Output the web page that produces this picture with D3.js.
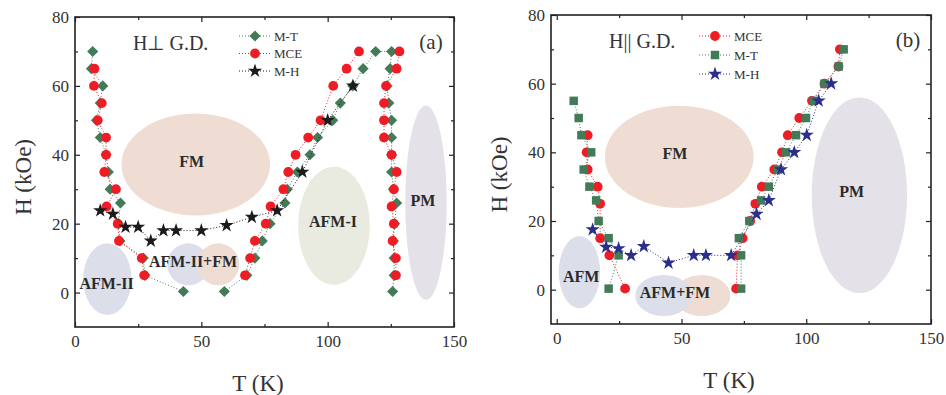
<!DOCTYPE html>
<html>
<head>
<meta charset="utf-8">
<script src="https://cdn.jsdelivr.net/npm/d3@7"></script>
<style>
  body { margin: 0; background: #fff; }
  svg text { font-family: "Liberation Serif", "Times New Roman", serif; }
</style>
</head>
<body>
<div id="chart"></div>
<script>
const width = 946;
const height = 395;

const tTicks = [0, 50, 100, 150];
const tMinor = [25, 75, 125];
const hTicks = [0, 20, 40, 60, 80];
const hMinor = [10, 30, 50, 70];

// panel (a) H perp G.D.   [T (K), H (kOe)], null = gap in the dotted line
const aMT = [
    [7, 70], [6.5, 65], [11, 60], [10, 55], [8.5, 50], [10, 45], [12.3, 40], [13.2, 35], [13.9, 30],
    [18, 26], [17.2, 20], [17.8, 15], [27, 10], [27.7, 5], [42.9, 0.3],
    null,
    [59.1, 0.3], [68, 5], [71.2, 10], [74.1, 15], [77.2, 20], [83.1, 26], [84, 30], [88, 35], [93, 40],
    [96, 45], [102, 50], [105, 55], [110, 60], [114, 65], [119, 70], [125.3, 70],
    [124.7, 65], [123.5, 60], [124.2, 55], [125.3, 50], [125.3, 45], [125.3, 40], [125.3, 35], [126, 30],
    [127.3, 26], [126.5, 20], [126, 15], [126.3, 10], [126.3, 5], [125.7, 0.3]
];
const aMCE = [
    [7.7, 65], [7.5, 60], [10.6, 55], [9, 50], [12.3, 45], [12.3, 40], [11.6, 35], [16.2, 30],
    [12.5, 25], [16.9, 20], [17.4, 15], [26.4, 10], [27.4, 5],
    null,
    [67.3, 5], [69.3, 10], [71.2, 15], [75.5, 20], [77.4, 25], [82.5, 30], [84.4, 35], [87.3, 40],
    [92.3, 45], [97.2, 50], [102.2, 60], [107.5, 65], [112.4, 70],
    null,
    [128.4, 70], [127.3, 65], [123.1, 60], [122.3, 55], [122.3, 50], [122.3, 45], [125.3, 40],
    [127.3, 35], [126.2, 30], [125.3, 25], [126.2, 20], [125.7, 15], [127, 10], [127, 5]
];
const aMH = [
    [10, 23.8], [15, 22.8], [20, 19], [25, 19], [30, 15], [35, 18], [40, 18], [50, 18],
    [60, 19.5], [70, 21.9], [80, 23.8], [90, 35], [100, 50], [110, 60]
];
// phase regions: centre and half-widths in T / H units
const aRegions = [
    { phase: "FM", t: 47.8, h: 37.2, rt: 29.4, rh: 14.8 },
    { phase: "AFM", t: 12.8, h: 3.9, rt: 9.6, rh: 10.4 },
    { phase: "AFM", t: 44.8, h: 8.2, rt: 8.3, rh: 6.1 },
    { phase: "FM", t: 56.7, h: 8.2, rt: 8.3, rh: 6.1 },
    { phase: "AFMI", t: 102.5, h: 19.4, rt: 14.2, rh: 17.1 },
    { phase: "PM", t: 138.9, h: 26.1, rt: 8.2, rh: 28.2 }
];
const aLabels = [
    { text: "FM", t: 46.2, h: 38 },
    { text: "AFM-II", t: 12.5, h: 2.5 },
    { text: "AFM-II+FM", t: 46.7, h: 9 },
    { text: "AFM-I", t: 102.1, h: 20.5 },
    { text: "PM", t: 137.7, h: 26.6 }
];

// panel (b) H || G.D.
const bMCE = [
    [12.4, 45], [12, 40], [12.4, 35], [16.4, 30], [17.4, 25], [17.4, 15], [21.1, 10], [27.4, 0.3],
    null,
    [71.9, 0.3], [72.5, 10], [74.5, 15], [77.5, 20], [79.6, 25], [82.2, 30], [87.2, 35], [90.3, 40],
    [92.6, 45], [97.2, 50], [102.3, 55], [107.3, 60], [112.9, 65], [113.5, 70]
];
const bMT = [
    [6.8, 55], [8.8, 50], [9.9, 45], [13.8, 40], [10.8, 35], [13.1, 30], [15.8, 26], [16.8, 20],
    [20.8, 15], [24.8, 10], [20.8, 0.3],
    null,
    [73.9, 0.3], [73.9, 10], [73, 15], [77.2, 20], [81.9, 26], [85, 30], [88.6, 35], [91.9, 40],
    [95.9, 45], [99.9, 50], [102.9, 55], [107.3, 60], [113, 65], [115, 70]
];
const bMH = [
    [14.4, 17.5], [19.8, 12.4], [24.8, 12], [29.8, 10], [34.9, 12.6], [44.8, 7.8], [54.9, 10],
    [59.8, 10], [69.9, 10], [80.1, 22], [85, 26], [89.9, 35], [95.2, 40], [100.2, 45], [105, 55], [110, 60]
];
const bRegions = [
    { phase: "FM", t: 49.1, h: 38.7, rt: 29.8, rh: 14.9 },
    { phase: "AFM", t: 9.1, h: 5.1, rt: 8.3, rh: 10.5 },
    { phase: "FM", t: 58.2, h: -1.7, rt: 11.4, rh: 6.0 },
    { phase: "AFM", t: 42.9, h: -1.7, rt: 11.4, rh: 6.0 },
    { phase: "PM", t: 121.3, h: 27.5, rt: 19.1, rh: 28.5 }
];
const bLabels = [
    { text: "FM", t: 47.4, h: 39.6 },
    { text: "AFM", t: 9.8, h: 3.9 },
    { text: "AFM+FM", t: 47.4, h: -0.7 },
    { text: "PM", t: 118.2, h: 28.5 }
];

const regionFill = { FM: "#efddd4", AFM: "#dcdfea", AFMI: "#e9ebe0", PM: "#e5e1e9" };
const seriesColor = { "M-T": "#437b59", "MCE": "#ee1c24", "M-H": "#1b1b1b" };
const symbolOf = { "M-T": "diamond", "MCE": "circle", "M-H": "star" };

const svg = d3.select("#chart")
    .append("svg")
    .attr("width", width)
    .attr("height", height);

function marker(sel, kind, color) {
    if (kind === "circle") {
        sel.append("circle").attr("r", 4.9).attr("fill", color);
    } else if (kind === "diamond") {
        sel.append("path").attr("d", d3.symbol(d3.symbolSquare, 62)()).attr("transform", "rotate(45)").attr("fill", color);
    } else if (kind === "square") {
        sel.append("path").attr("d", d3.symbol(d3.symbolSquare, 72)()).attr("fill", color);
    } else {
        sel.append("path").attr("d", d3.symbol(d3.symbolStar, 62)()).attr("fill", color);
    }
}

function drawPanel(p) {
    const x = d3.scaleLinear().domain(p.tDomain).range([p.left, p.right]);
    const y = d3.scaleLinear().domain([-10, 80]).range([p.bottom, p.top]);
    const g = svg.append("g");

    g.selectAll("ellipse")
        .data(p.regions)
        .join("ellipse")
        .attr("cx", d => x(d.t))
        .attr("cy", d => y(d.h))
        .attr("rx", d => x(d.t + d.rt) - x(d.t))
        .attr("ry", d => y(d.h - d.rh) - y(d.h))
        .attr("fill", d => regionFill[d.phase]);

    g.selectAll("text.phase")
        .data(p.labels)
        .join("text")
        .attr("class", "phase")
        .attr("x", d => x(d.t))
        .attr("y", d => y(d.h))
        .attr("text-anchor", "middle")
        .attr("dominant-baseline", "central")
        .attr("font-size", 16)
        .attr("font-weight", "bold")
        .attr("fill", "#2a2a2a")
        .text(d => d.text);

    const line = d3.line()
        .defined(d => d !== null)
        .x(d => x(d[0]))
        .y(d => y(d[1]));

    p.series.forEach(s => {
        const color = p.colors[s.name];
        g.append("path")
            .attr("d", line(s.data))
            .attr("fill", "none")
            .attr("stroke", color)
            .attr("stroke-width", 1)
            .attr("stroke-dasharray", "1,2");
        g.selectAll(null)
            .data(s.data.filter(d => d !== null))
            .join("g")
            .attr("transform", d => `translate(${x(d[0])},${y(d[1])})`)
            .each(function () { marker(d3.select(this), s.kind, color); });
    });

    // legend
    p.series.forEach((s, i) => {
        const ly = p.legendY + i * p.legendStep;
        const color = p.colors[s.name];
        g.append("line")
            .attr("x1", p.legendX).attr("x2", p.legendX + 31)
            .attr("y1", ly).attr("y2", ly)
            .attr("stroke", color).attr("stroke-width", 1).attr("stroke-dasharray", "1,2");
        const m = g.append("g").attr("transform", `translate(${p.legendX + 16},${ly})`);
        marker(m, s.kind, color);
        g.append("text")
            .attr("x", p.legendX + 35).attr("y", ly)
            .attr("dominant-baseline", "central")
            .attr("font-size", 13)
            .attr("fill", "#333")
            .text(s.name);
    });

    // axes with inward ticks on all four sides
    const style = a => a.attr("font-size", 17).attr("font-family", "Liberation Serif").call(s => s.select(".domain").remove())
        .call(s => s.selectAll("line").attr("stroke", "#222").attr("stroke-width", 1.2))
        .call(s => s.selectAll("text").attr("fill", "#333"));

    g.append("g").attr("transform", `translate(0,${p.bottom})`)
        .call(d3.axisBottom(x).tickValues(tTicks).tickSize(-5).tickPadding(8)).call(style);
    g.append("g").attr("transform", `translate(0,${p.bottom})`)
        .call(d3.axisBottom(x).tickValues(tMinor).tickSize(-3).tickFormat("")).call(style);
    g.append("g").attr("transform", `translate(0,${p.top})`)
        .call(d3.axisTop(x).tickValues(tTicks).tickSize(-5).tickFormat("")).call(style);
    g.append("g").attr("transform", `translate(0,${p.top})`)
        .call(d3.axisTop(x).tickValues(tMinor).tickSize(-3).tickFormat("")).call(style);
    g.append("g").attr("transform", `translate(${p.left},0)`)
        .call(d3.axisLeft(y).tickValues(hTicks).tickSize(-5).tickPadding(6)).call(style);
    g.append("g").attr("transform", `translate(${p.left},0)`)
        .call(d3.axisLeft(y).tickValues(hMinor).tickSize(-3).tickFormat("")).call(style);
    g.append("g").attr("transform", `translate(${p.right},0)`)
        .call(d3.axisRight(y).tickValues(hTicks).tickSize(-5).tickFormat("")).call(style);
    g.append("g").attr("transform", `translate(${p.right},0)`)
        .call(d3.axisRight(y).tickValues(hMinor).tickSize(-3).tickFormat("")).call(style);

    g.append("rect")
        .attr("x", p.left).attr("y", p.top)
        .attr("width", p.right - p.left).attr("height", p.bottom - p.top)
        .attr("fill", "none").attr("stroke", "#222").attr("stroke-width", 1.6);

    g.append("text")
        .attr("transform", `translate(${p.left - 52},${(p.top + p.bottom) / 2 + 5}) rotate(-90)`)
        .attr("text-anchor", "middle").attr("dominant-baseline", "central")
        .attr("font-size", 23).attr("fill", "#333")
        .text("H (kOe)");
    g.append("text")
        .attr("x", p.xTitleX).attr("y", p.bottom + 56)
        .attr("text-anchor", "middle").attr("dominant-baseline", "central")
        .attr("font-size", 23).attr("fill", "#333")
        .text("T (K)");

    g.append("text")
        .attr("x", p.left + 58).attr("y", p.top + 26)
        .attr("dominant-baseline", "central")
        .attr("font-size", 20).attr("fill", "#333")
        .text(p.title);
    g.append("text")
        .attr("x", p.right - 23).attr("y", p.top + 25)
        .attr("text-anchor", "middle").attr("dominant-baseline", "central")
        .attr("font-size", 21).attr("fill", "#333")
        .text(p.tag);
}

drawPanel({
    left: 75, right: 454, top: 17, bottom: 327, tDomain: [0, 150],
    regions: aRegions, labels: aLabels,
    series: [
        { name: "M-T", data: aMT, kind: "diamond" },
        { name: "MCE", data: aMCE, kind: "circle" },
        { name: "M-H", data: aMH, kind: "star" }
    ],
    colors: seriesColor,
    legendX: 239, legendY: 36, legendStep: 17.5,
    xTitleX: 258, title: "H\u22a5 G.D.", tag: "(a)"
});

drawPanel({
    left: 551, right: 931, top: 15, bottom: 324, tDomain: [-2.3, 150],
    regions: bRegions, labels: bLabels,
    series: [
        { name: "MCE", data: bMCE, kind: "circle" },
        { name: "M-T", data: bMT, kind: "square" },
        { name: "M-H", data: bMH, kind: "star" }
    ],
    colors: { "MCE": "#ee1c24", "M-T": "#437b59", "M-H": "#2c2e8c" },
    legendX: 699, legendY: 36, legendStep: 19,
    xTitleX: 729, title: "H|| G.D.", tag: "(b)"
});
</script>
</body>
</html>
